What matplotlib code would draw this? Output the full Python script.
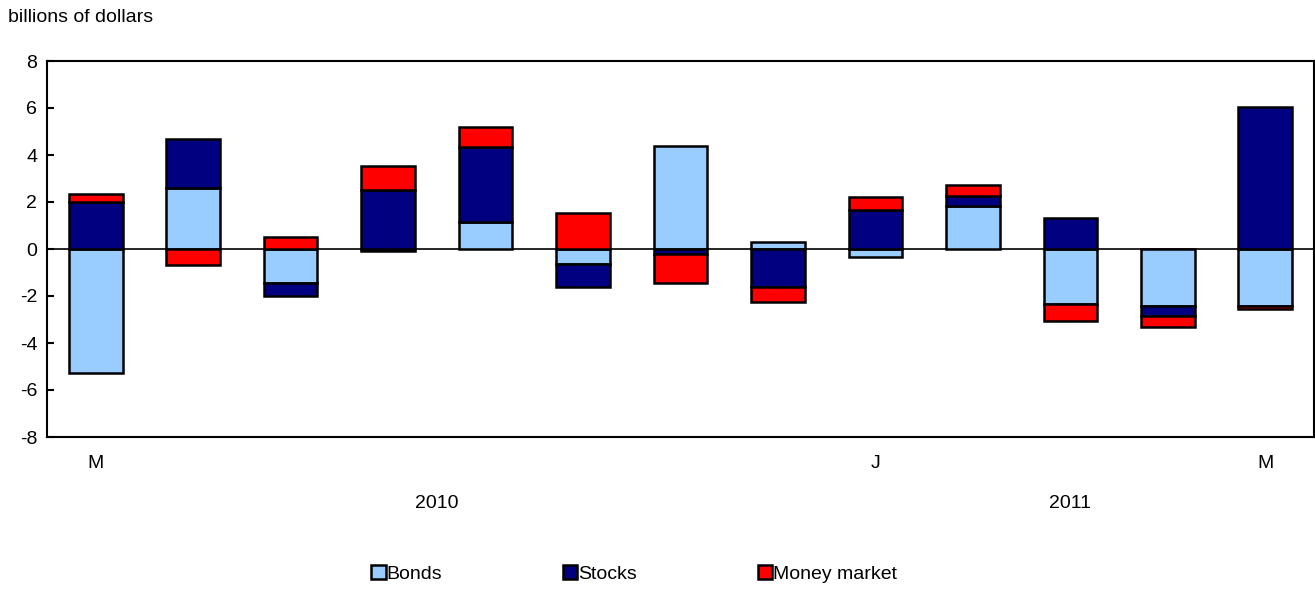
import numpy as np
import matplotlib.pyplot as plt

plt.rcParams['font.family'] = ['Liberation Sans', 'DejaVu Sans']
plt.rcParams['axes.unicode_minus'] = False

# Data (billions of dollars), May 2010 to May 2011
tick_labels = ['M', '', '', '', '', '', '', '', 'J', '', '', '', 'M']
years = ['2010', '2011']
year_centers = [3.5, 10]
bonds = [-5.29, 2.61, -1.46, -0.10, 1.13, -0.65, 4.38, 0.28, -0.33, 1.84, -2.34, -2.43, -2.43]
stocks = [2.01, 2.06, -0.54, 2.50, 3.22, -0.97, -0.23, -1.60, 1.67, 0.43, 1.30, -0.41, 6.03]
money = [0.33, -0.67, 0.50, 1.02, 0.84, 1.52, -1.23, -0.67, 0.54, 0.44, -0.72, -0.46, -0.12]

series = [('Bonds', bonds, '#99ccff'),
          ('Stocks', stocks, '#000080'),
          ('Money market', money, '#ff0000')]

fs = 14

fig = plt.figure(figsize=(13.15, 5.91), dpi=100)
ax = fig.add_axes([47 / 1315, 1 - 437 / 591, 1267 / 1315, 376 / 591])

x = np.arange(len(bonds))
pos_base = np.zeros(len(x))
neg_base = np.zeros(len(x))
for name, vals, col in series:
    vals = np.array(vals)
    base = np.where(vals >= 0, pos_base, neg_base)
    ax.bar(x, vals, 0.55, bottom=base, color=col, edgecolor='black',
           linewidth=1.8, label=name, zorder=3)
    pos_base += np.where(vals >= 0, vals, 0)
    neg_base += np.where(vals < 0, vals, 0)

ax.axhline(0, color='black', linewidth=1.2, zorder=2)

ax.set_xlim(-0.5, len(x) - 0.5)
ax.set_ylim(-8, 8)
ax.set_yticks(range(-8, 9, 2))
ax.set_xticks(x)
ax.set_xticklabels(tick_labels)
ax.tick_params(axis='x', length=0, pad=13, labelsize=fs)
ax.tick_params(axis='y', direction='in', length=5, width=1.5, pad=7, labelsize=fs)

for s in ax.spines.values():
    s.set_linewidth(1.5)

for yr, c in zip(years, year_centers):
    ax.text(c, -0.176, yr, transform=ax.get_xaxis_transform(), ha='center',
            va='center', fontsize=fs)

fig.text(8 / 1315, 1 - 17 / 591, 'billions of dollars', ha='left', va='center', fontsize=fs)

fig.legend(loc='center', bbox_to_anchor=(634 / 1315, 1 - 574 / 591), ncol=3,
           frameon=False, fontsize=fs, handlelength=0.75, handleheight=0.75,
           handletextpad=0.05, columnspacing=6.2)

fig.savefig('out.png', dpi=100)
